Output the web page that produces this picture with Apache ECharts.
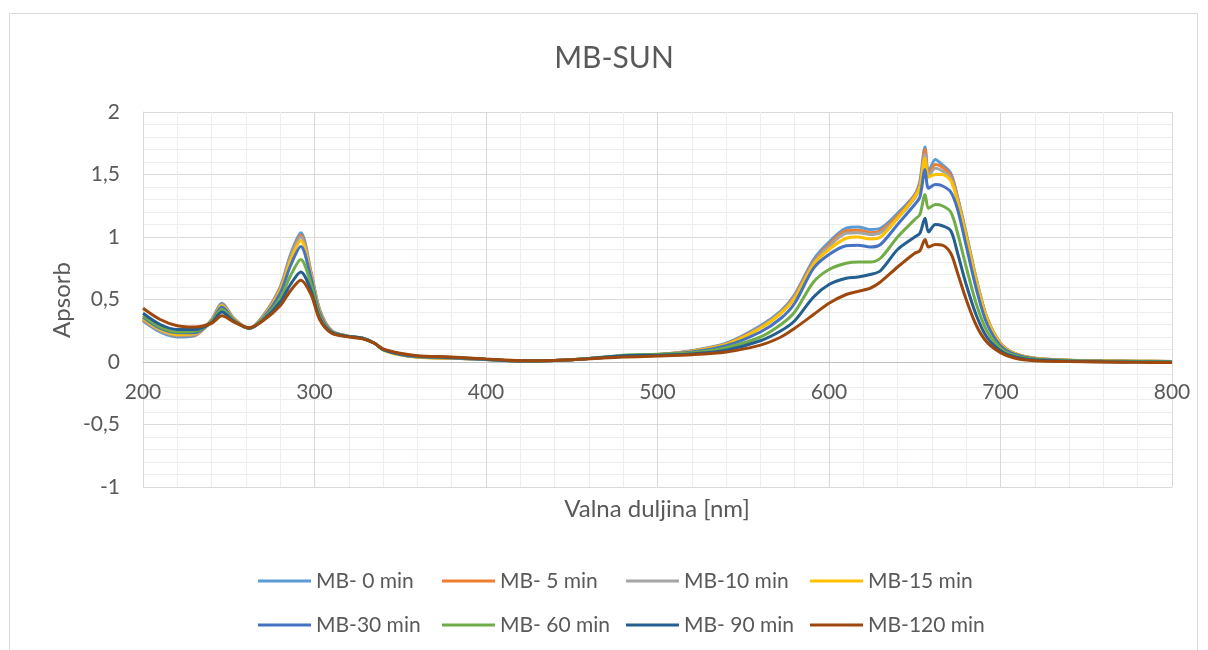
<!DOCTYPE html>
<html>
<head>
<meta charset="utf-8">
<title>MB-SUN</title>
<script src="https://cdn.jsdelivr.net/npm/echarts@6/dist/echarts.min.js"></script>
<style>
html, body { margin: 0; padding: 0; background: #fff; }
#main { width: 1208px; height: 650px; }
</style>
</head>
<body>
<div id="main"></div>
<script>
// valna duljina (nm)
var wl = [200,210,220,230,240,246,253,262,270,280,286,292,298,303,310,320,328,335,340,350,360,380,400,420,440,460,480,500,520,540,560,572,580,591,600,610,617,624,630,640,650,653,656,658,662,666,671,675,680,686,692,700,708,720,740,760,780,800];

var mb0 = [0.33,0.24,0.20,0.21,0.34,0.47,0.35,0.27,0.37,0.60,0.86,1.035,0.72,0.42,0.25,0.205,0.19,0.15,0.10,0.06,0.04,0.03,0.02,0.008,0.012,0.028,0.048,0.06,0.09,0.15,0.29,0.41,0.54,0.82,0.96,1.07,1.08,1.06,1.07,1.19,1.34,1.45,1.72,1.52,1.62,1.58,1.51,1.32,1.03,0.66,0.36,0.15,0.07,0.03,0.015,0.01,0.007,0.005];
var mb5 = [0.34,0.25,0.21,0.215,0.335,0.46,0.345,0.27,0.365,0.59,0.84,1.015,0.71,0.415,0.25,0.205,0.19,0.15,0.10,0.06,0.04,0.03,0.02,0.008,0.012,0.028,0.048,0.06,0.088,0.145,0.28,0.40,0.53,0.80,0.94,1.05,1.055,1.035,1.05,1.17,1.33,1.42,1.70,1.50,1.58,1.56,1.49,1.31,1.02,0.65,0.355,0.148,0.07,0.03,0.015,0.01,0.007,0.005];
var mb10 = [0.35,0.25,0.215,0.22,0.33,0.455,0.34,0.27,0.36,0.58,0.83,1.0,0.70,0.41,0.25,0.205,0.19,0.15,0.10,0.06,0.04,0.03,0.02,0.008,0.012,0.028,0.047,0.058,0.086,0.14,0.275,0.395,0.52,0.79,0.925,1.03,1.035,1.02,1.035,1.15,1.31,1.40,1.66,1.48,1.55,1.53,1.47,1.30,1.01,0.65,0.35,0.145,0.068,0.03,0.014,0.01,0.006,0.005];
var mb15 = [0.35,0.26,0.22,0.225,0.33,0.45,0.34,0.27,0.355,0.57,0.81,0.97,0.69,0.40,0.245,0.205,0.19,0.15,0.095,0.055,0.038,0.03,0.02,0.008,0.012,0.028,0.047,0.058,0.085,0.14,0.27,0.39,0.51,0.78,0.90,0.99,1.0,0.985,1.0,1.15,1.32,1.40,1.63,1.48,1.50,1.50,1.45,1.28,1.0,0.64,0.35,0.145,0.068,0.03,0.014,0.01,0.006,0.005];
var mb30 = [0.36,0.27,0.235,0.235,0.325,0.44,0.335,0.27,0.35,0.55,0.77,0.925,0.67,0.39,0.245,0.205,0.19,0.15,0.10,0.06,0.042,0.032,0.02,0.008,0.012,0.028,0.048,0.058,0.08,0.13,0.24,0.35,0.47,0.75,0.86,0.93,0.935,0.92,0.94,1.10,1.26,1.32,1.54,1.39,1.42,1.41,1.36,1.22,0.93,0.58,0.31,0.13,0.062,0.027,0.013,0.008,0.005,0.004];
var mb60 = [0.37,0.28,0.24,0.245,0.32,0.42,0.33,0.27,0.345,0.51,0.69,0.82,0.62,0.37,0.24,0.205,0.19,0.15,0.10,0.065,0.045,0.035,0.022,0.008,0.012,0.028,0.055,0.062,0.075,0.115,0.20,0.30,0.40,0.64,0.74,0.79,0.80,0.80,0.83,1.0,1.14,1.18,1.34,1.23,1.26,1.25,1.20,1.03,0.76,0.46,0.25,0.11,0.052,0.022,0.01,0.006,0.004,0.003];
var mb90 = [0.39,0.30,0.26,0.26,0.315,0.40,0.325,0.27,0.335,0.48,0.62,0.72,0.57,0.35,0.235,0.205,0.19,0.15,0.10,0.065,0.047,0.036,0.022,0.008,0.012,0.027,0.05,0.055,0.065,0.095,0.17,0.25,0.33,0.52,0.62,0.67,0.68,0.70,0.73,0.90,1.0,1.03,1.15,1.04,1.10,1.09,1.05,0.87,0.62,0.37,0.20,0.09,0.042,0.016,0.006,0.002,0.0,-0.001];
var mb120 = [0.43,0.34,0.29,0.28,0.31,0.37,0.32,0.275,0.33,0.45,0.57,0.655,0.54,0.34,0.23,0.20,0.185,0.15,0.105,0.07,0.05,0.04,0.025,0.01,0.012,0.025,0.04,0.048,0.058,0.08,0.135,0.20,0.27,0.38,0.47,0.54,0.565,0.59,0.64,0.76,0.87,0.89,0.98,0.92,0.94,0.935,0.87,0.71,0.50,0.29,0.16,0.075,0.032,0.01,0.003,0.0,-0.003,-0.004];

var names = ['MB- 0 min','MB- 5 min','MB-10 min','MB-15 min','MB-30 min','MB- 60 min','MB- 90 min','MB-120 min'];
var colors = ['#5B9BD5','#ED7D31','#A5A5A5','#FFC000','#4472C4','#70AD47','#255E91','#9E480E'];
var values = [mb0, mb5, mb10, mb15, mb30, mb60, mb90, mb120];

var font = 'Lato, "Open Sans", sans-serif';
var textColor = '#595959';

var myChart = echarts.init(document.getElementById('main'));

var series = [];
for (var i = 0; i < names.length; i++) {
    var pts = [];
    for (var j = 0; j < wl.length; j++) {
        pts.push([wl[j], values[i][j]]);
    }
    series.push({
        name: names[i],
        type: 'line',
        data: pts,
        symbol: 'none',
        smooth: 0.3,
        lineStyle: { width: 3, color: colors[i] },
        itemStyle: { color: colors[i] }
    });
}

// legenda u 4 stupca po 2 reda
var legendCols = [253, 437, 621, 805];
var legends = [];
for (var c = 0; c < 4; c++) {
    legends.push({
        orient: 'vertical',
        left: legendCols[c],
        top: 564,
        data: [names[c], names[c + 4]],
        icon: 'rect',
        itemWidth: 53,
        itemHeight: 3,
        itemGap: 20,
        textStyle: { fontFamily: font, fontSize: 21, color: textColor, lineHeight: 24 }
    });
}

var option = {
    animation: false,
    color: colors,
    legend: legends,
    grid: { left: 143, top: 112, right: 36, bottom: 163 },
    xAxis: {
        type: 'value',
        min: 200,
        max: 800,
        interval: 100,
        offset: -125, // os x prolazi kroz 0
        axisLine: { onZero: false, lineStyle: { color: '#BFBFBF', width: 1 } },
        axisTick: { show: false },
        axisLabel: { margin: 20, fontFamily: font, fontSize: 21, color: textColor },
        splitLine: { show: true, lineStyle: { color: '#D9D9D9', width: 1 } },
        minorTick: { show: false, splitNumber: 5 },
        minorSplitLine: { show: true, lineStyle: { color: '#EDEDED', width: 1 } }
    },
    yAxis: {
        type: 'value',
        min: -1,
        max: 2,
        interval: 0.5,
        axisLine: { show: true, lineStyle: { color: '#D9D9D9' } },
        axisTick: { show: false },
        axisLabel: {
            margin: 23,
            fontFamily: font,
            fontSize: 21,
            color: textColor,
            formatter: function (v) { return String(v).replace('.', ','); }
        },
        splitLine: { show: true, lineStyle: { color: '#D9D9D9', width: 1 } },
        minorTick: { show: false, splitNumber: 5 },
        minorSplitLine: { show: true, lineStyle: { color: '#EDEDED', width: 1 } }
    },
    graphic: [
        {
            type: 'rect',
            silent: true,
            shape: { x: 9.5, y: 13.5, width: 1188, height: 700 },
            style: { fill: 'none', stroke: '#D9D9D9', lineWidth: 1 },
            z: -1
        },
        {
            type: 'text',
            x: 614,
            y: 58,
            style: { text: 'MB-SUN', font: '30px ' + font, fill: textColor, textAlign: 'center', textVerticalAlign: 'middle' }
        },
        {
            type: 'text',
            x: 62,
            y: 300,
            rotation: Math.PI / 2,
            style: { text: 'Apsorb', font: '24px ' + font, fill: textColor, textAlign: 'center', textVerticalAlign: 'middle' }
        },
        {
            type: 'text',
            x: 657,
            y: 509,
            style: { text: 'Valna duljina [nm]', font: '24px ' + font, fill: textColor, textAlign: 'center', textVerticalAlign: 'middle' }
        }
    ],
    series: series
};

myChart.setOption(option);
</script>
</body>
</html>
